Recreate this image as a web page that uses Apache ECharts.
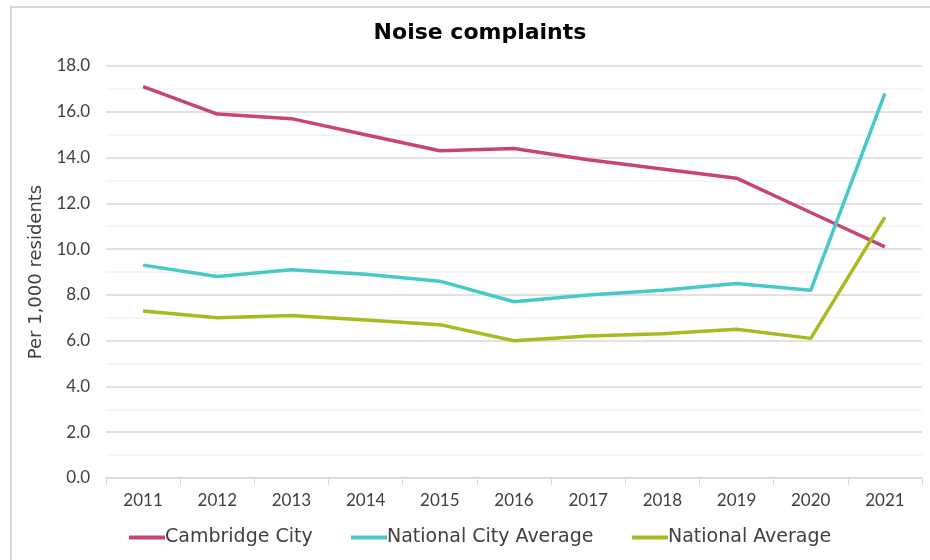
<!DOCTYPE html>
<html>
<head>
<meta charset="utf-8">
<script src="https://cdn.jsdelivr.net/npm/echarts@6/dist/echarts.min.js"></script>
<style>
body { margin: 0; background: #fff; }
#frame {
  position: absolute;
  left: 10px;
  top: 6px;
  width: 940px;
  height: 580px;
  border-left: 2px solid #d9d9d9;
  border-top: 2px solid #d9d9d9;
}
#main {
  position: absolute;
  left: 0;
  top: 0;
  height: 560px;
  width: 930px;
}
</style>
</head>
<body>
<div id="frame"></div>
<div id="main"></div>
<script>
var years = ['2011', '2012', '2013', '2014', '2015', '2016', '2017', '2018', '2019', '2020', '2021'];
var cambridge = [17.1, 15.9, 15.7, 15.0, 14.3, 14.4, 13.9, 13.5, 13.1, 11.6, 10.1];
var nationalCity = [9.3, 8.8, 9.1, 8.9, 8.6, 7.7, 8.0, 8.2, 8.5, 8.2, 16.8];
var national = [7.3, 7.0, 7.1, 6.9, 6.7, 6.0, 6.2, 6.3, 6.5, 6.1, 11.4];
var names = ['Cambridge City', 'National City Average', 'National Average'];
var colors = ['#c8456f', '#46c9c9', '#a9b91e'];

var font = 'Lato';
var wide = 'DejaVu Sans';
var chart = echarts.init(document.getElementById('main'));

function line(name, data, color) {
  return {
    name: name,
    type: 'line',
    data: data,
    showSymbol: false,
    symbol: 'none',
    lineStyle: { width: 3.5, color: color },
    itemStyle: { color: color }
  };
}

// one legend per entry so each sits where the reference puts it
var legendLeft = [124, 346, 627];
var legends = names.map(function (n, i) {
  return {
    left: legendLeft[i],
    bottom: 8,
    itemWidth: 36,
    itemHeight: 4,
    icon: 'rect',
    textStyle: { fontFamily: wide, fontSize: 19, color: '#404040', padding: [0, 0, 0, -5] },
    data: [n]
  };
});

var option = {
  animation: false,
  title: {
    text: 'Noise complaints',
    left: 475,
    top: 17,
    textAlign: 'center',
    textStyle: { fontFamily: wide, fontSize: 22, fontWeight: 'bold', color: '#000' }
  },
  legend: legends,
  grid: {
    left: 106,
    right: 8,
    top: 66,
    bottom: 82
  },
  xAxis: {
    type: 'category',
    data: years,
    boundaryGap: true,
    axisLine: { lineStyle: { color: '#d9d9d9', width: 1.5 } },
    axisTick: { show: true, length: 7, lineStyle: { color: '#d9d9d9' } },
    axisLabel: { fontFamily: font, fontSize: 17, color: '#404040', margin: 14 }
  },
  yAxis: {
    type: 'value',
    min: 0,
    max: 18,
    interval: 2,
    name: 'Per 1,000 residents',
    nameLocation: 'middle',
    nameGap: 58,
    nameTextStyle: { fontFamily: wide, fontSize: 18, color: '#404040' },
    axisLine: { show: false },
    axisTick: { show: false },
    axisLabel: {
      fontFamily: font,
      fontSize: 17,
      color: '#404040',
      margin: 16,
      formatter: function (v) { return v.toFixed(1); }
    },
    splitLine: { lineStyle: { color: '#d9d9d9', width: 1.5 } },
    minorTick: { show: false, splitNumber: 2 },
    minorSplitLine: { show: true, lineStyle: { color: '#f2f2f2', width: 1.5 } }
  },
  series: [
    line(names[0], cambridge, colors[0]),
    line(names[1], nationalCity, colors[1]),
    line(names[2], national, colors[2])
  ]
};

chart.setOption(option);
</script>
</body>
</html>
